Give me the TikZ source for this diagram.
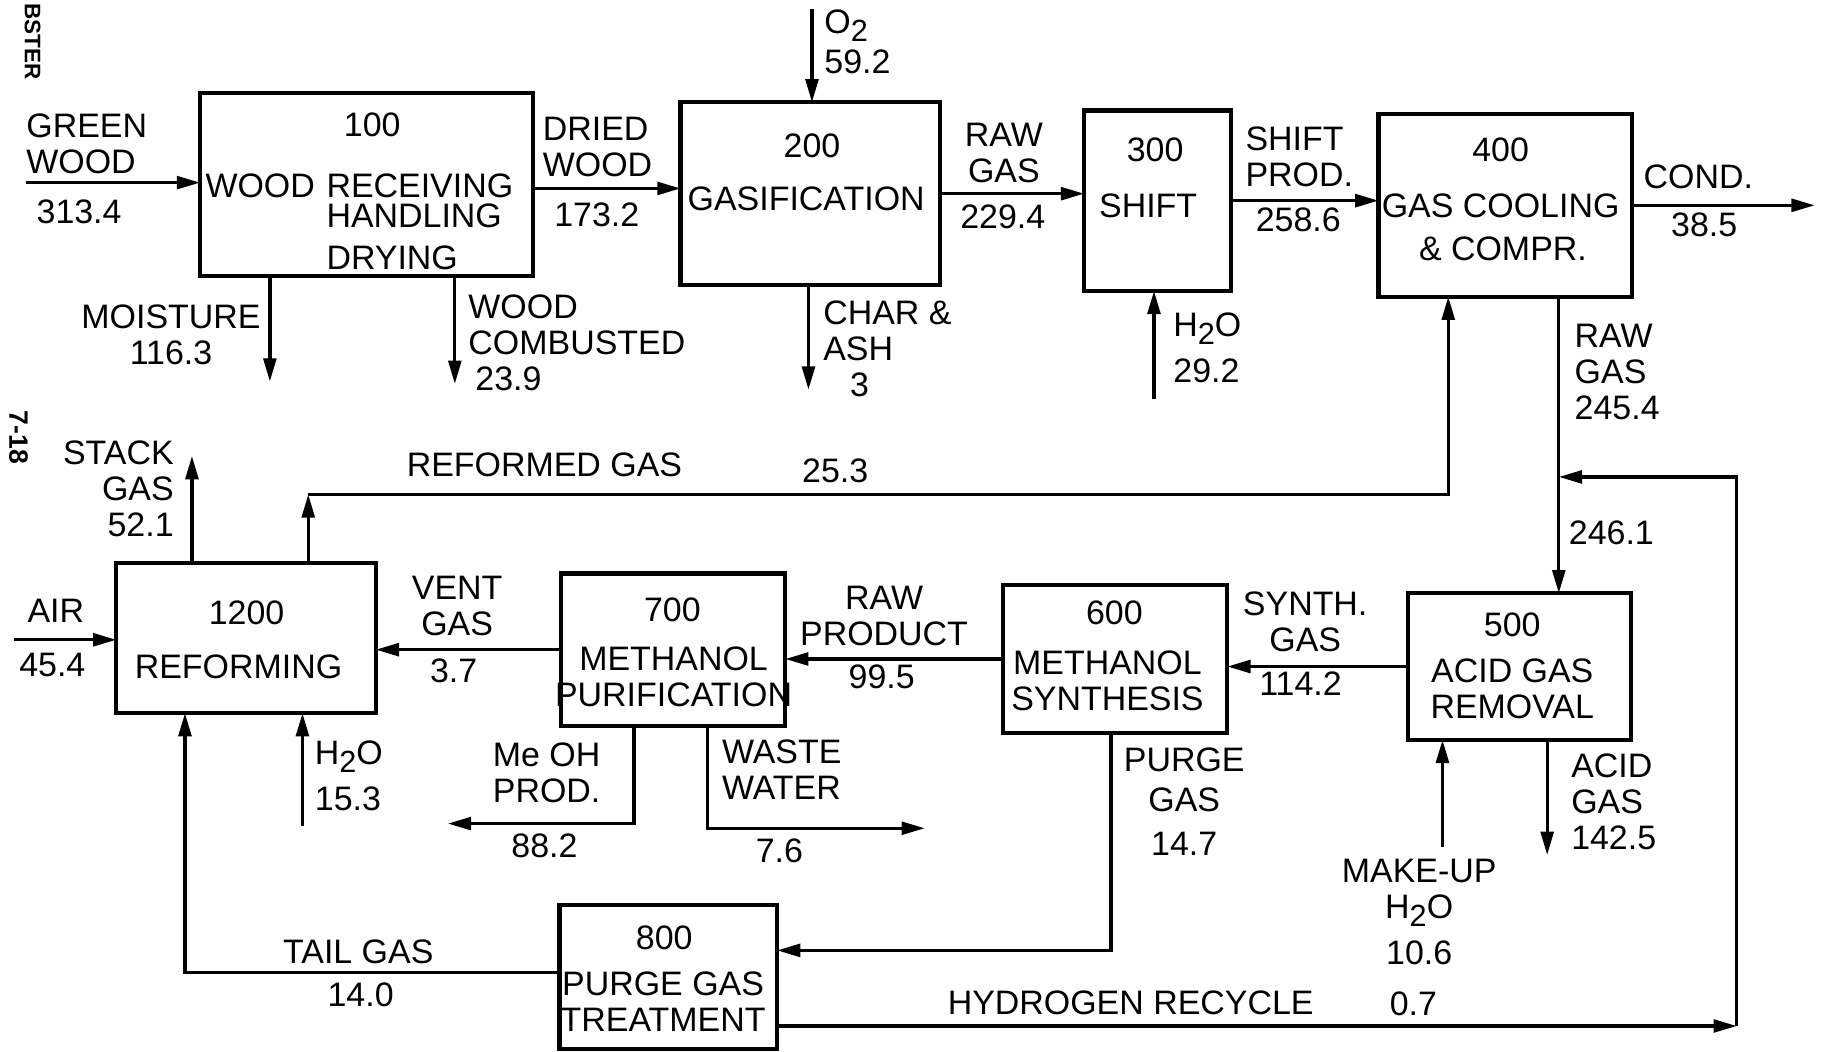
\documentclass[tikz,border=0pt]{standalone}
\usepackage{fontspec}
\setmainfont{Liberation Sans}
\usetikzlibrary{arrows.meta,calc}
\newcommand{\chemsub}[1]{\raisebox{-0.45ex}{\fontsize{7.5}{7.5}\selectfont #1}}

\begin{document}
\begin{tikzpicture}[font=\fontsize{8.3}{8.8}\selectfont]
\tikzset{
 unit/.style={draw,line width=1pt,inner sep=0,outer sep=0},
 lbl/.style={inner sep=0,align=left},
 lblc/.style={inner sep=0,align=center},
 ar/.style={-{Triangle[length=2mm,width=1.1mm]},line width=0.8pt}
}
\useasboundingbox (0,0) rectangle (15.68,-9.04);

% margin marks
\node[inner sep=0,rotate=-90,font=\fontsize{5.5}{6}\selectfont\bfseries] (mk1) at (0.28,-0.36) {BSTER};
\node[inner sep=0,rotate=-90,font=\fontsize{6.5}{7}\selectfont\bfseries] (mk2) at (0.16,-3.76) {7-18};

% process units
\node[unit,minimum width=2.86cm,minimum height=1.57cm] (u100) at (3.15,-1.585) {};
\node[unit,minimum width=2.23cm,minimum height=1.57cm] (u200) at (6.965,-1.665) {};
\node[unit,minimum width=1.26cm,minimum height=1.55cm] (u300) at (9.95,-1.725) {};
\node[unit,minimum width=2.18cm,minimum height=1.57cm] (u400) at (12.94,-1.765) {};
\node[unit,minimum width=1.92cm,minimum height=1.26cm] (u500) at (13.06,-5.73) {};
\node[unit,minimum width=1.93cm,minimum height=1.27cm] (u600) at (9.585,-5.665) {};
\node[unit,minimum width=1.93cm,minimum height=1.31cm] (u700) at (5.785,-5.585) {};
\node[unit,minimum width=1.87cm,minimum height=1.24cm] (u800) at (5.745,-8.40) {};
\node[unit,minimum width=2.23cm,minimum height=1.29cm] (u1200) at (2.115,-5.485) {};

% unit texts
\node[lblc] (n100) at (3.20,-1.07) {100};
\node[lbl,anchor=west] (w100) at (1.76,-1.60) {WOOD};
\node[lbl,anchor=north west] (r100) at (2.80,-1.49) {RECEIVING\\[-1.5pt]HANDLING\\[1.5pt]DRYING};
\node[lblc] (n200) at (6.98,-1.25) {200};
\node[lblc] (t200) at (6.93,-1.71) {GASIFICATION};
\node[lblc] (n300) at (9.93,-1.29) {300};
\node[lblc] (t300) at (9.87,-1.77) {SHIFT};
\node[lblc] (n400) at (12.90,-1.29) {400};
\node[lblc] (t400) at (12.90,-1.77) {GAS COOLING};
\node[lblc] (s400) at (12.92,-2.14) {\& COMPR.};
\node[lblc] (n500) at (13.00,-5.37) {500};
\node[lblc] (t500) at (13.00,-5.92) {ACID GAS\\REMOVAL};
\node[lblc] (n600) at (9.58,-5.27) {600};
\node[lblc] (t600) at (9.52,-5.85) {METHANOL\\SYNTHESIS};
\node[lblc] (n700) at (5.78,-5.24) {700};
\node[lblc] (t700) at (5.79,-5.82) {METHANOL\\PURIFICATION};
\node[lblc] (n800) at (5.71,-8.06) {800};
\node[lblc] (t800) at (5.70,-8.61) {PURGE GAS\\TREATMENT};
\node[lblc] (n1200) at (2.12,-5.27) {1200};
\node[lblc] (t1200) at (2.05,-5.73) {REFORMING};

% free ends and bends
\coordinate (gw) at (0.22,-1.57);
\coordinate (o2) at (6.98,-0.08);
\coordinate (mo) at (2.32,-3.28);
\coordinate (wc) at (3.91,-3.30);
\coordinate (ch) at (6.95,-3.35);
\coordinate (w3) at (9.92,-3.43);
\coordinate (cd) at (15.60,-1.79);
\coordinate (jn) at (13.40,-4.10);
\coordinate (hr) at (14.93,-8.82);
\coordinate (ai) at (0.12,-5.50);
\coordinate (sk) at (1.65,-3.92);
\coordinate (rf) at (2.65,-4.25);
\coordinate (w12) at (2.60,-7.10);
\coordinate (me1) at (5.45,-7.08);
\coordinate (me) at (3.85,-7.08);
\coordinate (ww1) at (6.08,-7.12);
\coordinate (ww) at (7.95,-7.12);
\coordinate (pg) at (9.55,-8.17);
\coordinate (mk) at (12.40,-7.28);
\coordinate (ag) at (13.30,-7.35);
\coordinate (tg) at (1.59,-8.36);

% streams
\draw[ar] (gw) -- (gw -| u100.west);
\draw[ar] ([yshift=-0.35mm]u100.east) -- ([yshift=-0.35mm]u100.east -| u200.west);
\draw[ar] (o2) -- (o2 |- u200.north);
\draw[ar] (mo |- u100.south) -- (mo);
\draw[ar] (wc |- u100.south) -- (wc);
\draw[ar] (ch |- u200.south) -- (ch);
\draw[ar] (u200.east) -- (u200.east -| u300.west);
\draw[ar] (w3) -- (w3 |- u300.south);
\draw[ar] (u300.east) -- (u300.east -| u400.west);
\draw[ar] (u400.east) -- (u400.east -| cd);
\draw[ar] (jn |- u400.south) -- (jn |- u500.north);
\draw[ar] (u800.east |- hr) -- (hr);
\draw[ar] (hr) |- (jn);
\draw[ar] (u500.west) -- (u500.west -| u600.east);
\draw[ar] (u600.west) -- (u600.west -| u700.east);
\draw[ar] (u700.west) -- (u700.west -| u1200.east);
\draw[ar] (ai) -- (ai -| u1200.west);
\draw[ar] (sk |- u1200.north) -- (sk);
\draw[ar] (rf |- u1200.north) -- (rf);
\draw[ar] (rf) -| ([xshift=-4.9mm]u400.south);
\draw[ar] (w12) -- (w12 |- u1200.south);
\draw[ar] (me1 |- u700.south) -- (me1) -- (me);
\draw[ar] (ww1 |- u700.south) -- (ww1) -- (ww);
\draw[ar] (pg |- u600.south) -- (pg) -- (pg -| u800.east);
\draw[ar] (mk) -- (mk |- u500.south);
\draw[ar] (ag |- u500.south) -- (ag);
\draw[ar] (tg -| u800.west) -- (tg) -- (tg |- u1200.south);

% stream labels
\node[lbl,anchor=north west] (gwT) at (0.22,-0.97) {GREEN\\WOOD};
\node[lblc] (gwV) at (0.68,-1.82) {313.4};
\node[lbl,anchor=north west] (dwT) at (4.66,-1.00) {DRIED\\WOOD};
\node[lblc] (dwV) at (5.13,-1.85) {173.2};
\node[lbl,anchor=north west] (o2T) at (7.08,-0.08) {O\chemsub{2}\\[1pt]59.2};
\node[lblc,anchor=north] (moT) at (1.47,-2.61) {MOISTURE\\116.3};
\node[lbl,anchor=north west] (wcT) at (4.02,-2.53) {WOOD\\COMBUSTED\\\hspace*{0.6mm}23.9};
\node[lbl,anchor=north west] (chT) at (7.07,-2.58) {CHAR \&\\ASH\\\hspace*{2.3mm}3};
\node[lblc,anchor=north] (rgT) at (8.63,-1.05) {RAW\\GAS};
\node[lblc] (rgV) at (8.62,-1.86) {229.4};
\node[lbl,anchor=north west] (w3T) at (10.08,-2.68) {H\chemsub{2}O\\[2.5pt]29.2};
\node[lbl,anchor=north west] (spT) at (10.70,-1.08) {SHIFT\\PROD.};
\node[lblc] (spV) at (11.16,-1.89) {258.6};
\node[lblc] (cdT) at (14.60,-1.52) {COND.};
\node[lblc] (cdV) at (14.65,-1.93) {38.5};
\node[lbl,anchor=north west] (r4T) at (13.53,-2.78) {RAW\\GAS\\245.4};
\node[lbl,anchor=west] (jnV) at (13.48,-4.58) {246.1};
\node[lblc] (rfT) at (4.68,-4.00) {REFORMED GAS};
\node[lblc] (rfV) at (7.18,-4.05) {25.3};
\node[inner sep=0,align=right,anchor=north east] (skT) at (1.50,-3.78) {STACK\\GAS\\52.1};
\node[lblc] (aiT) at (0.48,-5.25) {AIR};
\node[lblc] (aiV) at (0.45,-5.72) {45.4};
\node[lblc,anchor=north] (vgT) at (3.93,-4.95) {VENT\\GAS};
\node[lblc] (vgV) at (3.90,-5.77) {3.7};
\node[lblc,anchor=north] (rpT) at (7.60,-5.03) {RAW\\PRODUCT};
\node[lblc] (rpV) at (7.58,-5.82) {99.5};
\node[lblc,anchor=north] (sgT) at (11.22,-5.08) {SYNTH.\\GAS};
\node[lblc] (sgV) at (11.18,-5.88) {114.2};
\node[lbl,anchor=north west] (w12T) at (2.70,-6.36) {H\chemsub{2}O\\[2.5pt]15.3};
\node[lbl,anchor=north west] (meT) at (4.23,-6.38) {Me OH\\PROD.};
\node[lblc] (meV) at (4.68,-7.27) {88.2};
\node[lbl,anchor=north west] (wwT) at (6.20,-6.35) {WASTE\\WATER};
\node[lblc] (wwV) at (6.70,-7.31) {7.6};
\node[lblc,anchor=north] (pgT) at (10.18,-6.42) {PURGE\\[1pt]GAS\\[2pt]14.7};
\node[lblc,anchor=north] (mkT) at (12.20,-7.38) {MAKE-UP\\H\chemsub{2}O\\[2.5pt]10.6};
\node[lbl,anchor=north west] (agT) at (13.50,-6.47) {ACID\\GAS\\142.5};
\node[lblc] (tgT) at (3.08,-8.18) {TAIL GAS};
\node[lblc] (tgV) at (3.10,-8.55) {14.0};
\node[lblc] (hrT) at (9.72,-8.62) {HYDROGEN RECYCLE};
\node[lblc] (hrV) at (12.15,-8.63) {0.7};
\end{tikzpicture}
\end{document}
